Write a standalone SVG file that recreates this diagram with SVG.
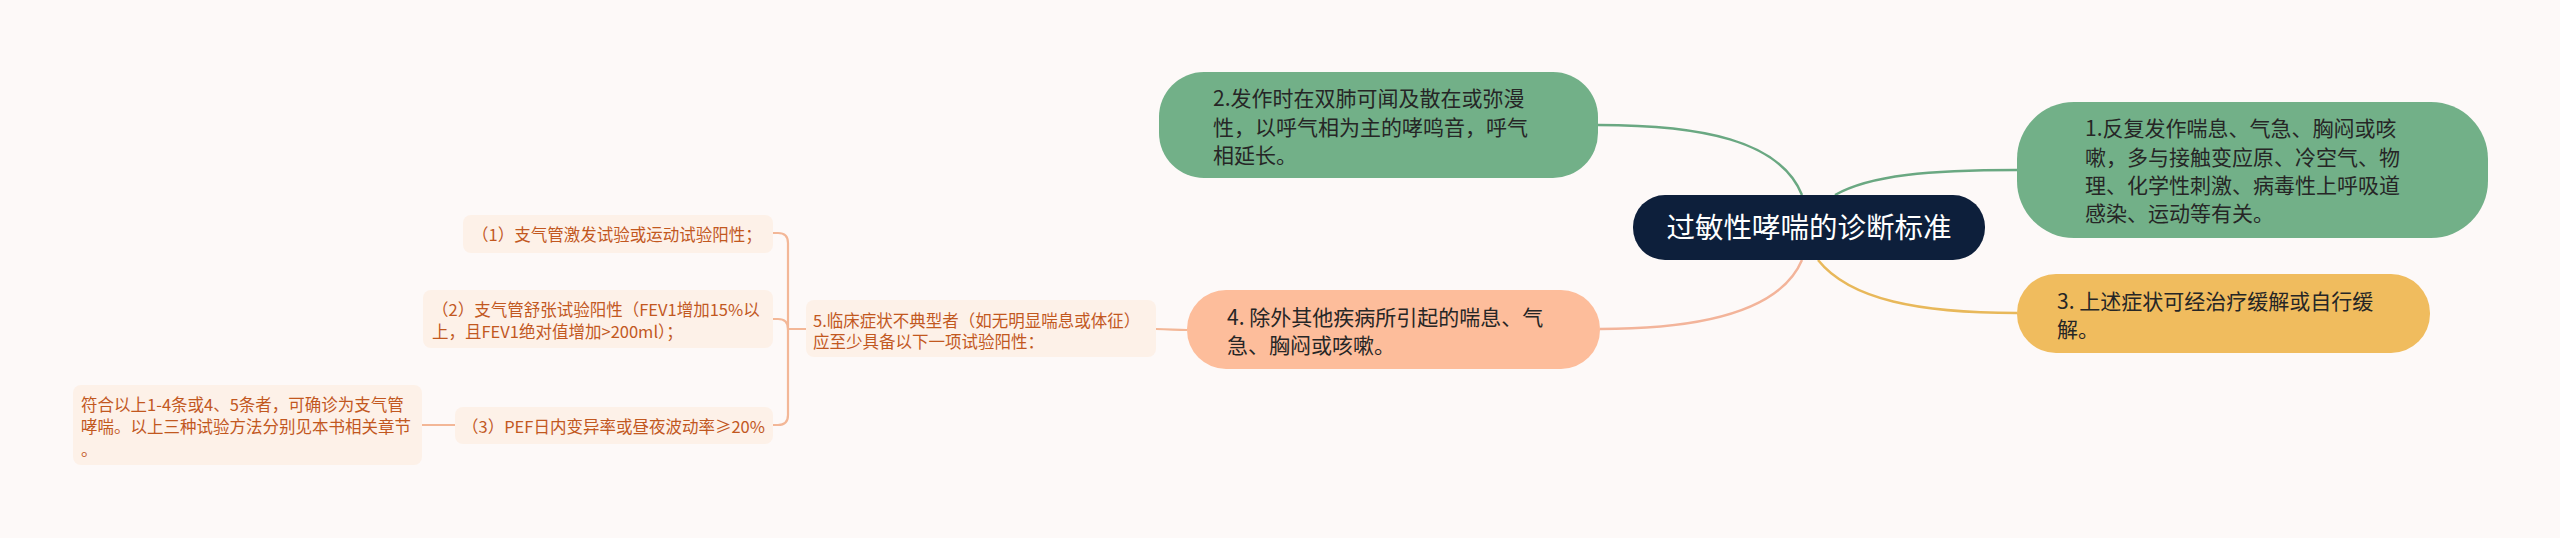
<svg xmlns="http://www.w3.org/2000/svg" width="2560" height="538" viewBox="0 0 2560 538">
<style>
text{font-family:"Noto Sans CJK SC","Microsoft YaHei",sans-serif}
.big{font-size:21px;fill:#262626}
.small{font-size:16.5px;fill:#c2581f}
.sub{fill:#fdf1e8}
.conn{fill:none;stroke-width:2.5}
.br{fill:none;stroke:#f3b797;stroke-width:2.2}
</style>
<rect width="2560" height="538" fill="#fdf9f8"/>
<g id="connectors">
<path class="conn" stroke="#6aa882" d="M1802,195 C1780,140 1700,125 1598,125"/>
<path class="conn" stroke="#6aa882" d="M1835,195 C1870,175 1930,170 2017,170"/>
<path class="conn" stroke="#f3b49a" d="M1802,260 C1780,312 1700,329 1600,329"/>
<path class="conn" stroke="#e8b85a" d="M1818,260 C1850,300 1920,313 2017,313"/>
<path class="br" d="M1156,329 C1170,329 1175,330 1187,330"/>
<path class="br" d="M773,233 L778,233 Q788,233 788,243 L788,415 Q788,425 778,425 L773,425"/>
<path class="br" d="M773,319 L778,319 Q788,319 788,329 L806,329"/>
<path class="br" d="M422,425 L455,425"/>
</g>
<g id="center">
<rect x="1633" y="195" width="352" height="65" rx="32" fill="#0d1f3b"/>
<text x="1809" y="238" font-size="28.5" fill="#ffffff" text-anchor="middle">过敏性哮喘的诊断标准</text>
</g>
<g id="node1">
<rect x="2017" y="102" width="471" height="136" rx="57" fill="#72b088"/>
<text class="big"><tspan x="2085" y="136">1.反复发作喘息、气急、胸闷或咳</tspan><tspan x="2085" y="165">嗽，多与接触变应原、冷空气、物</tspan><tspan x="2085" y="193">理、化学性刺激、病毒性上呼吸道</tspan><tspan x="2085" y="221">感染、运动等有关。</tspan></text>
</g>
<g id="node2">
<rect x="1159" y="72" width="439" height="106" rx="45" fill="#72b088"/>
<text class="big"><tspan x="1213" y="106">2.发作时在双肺可闻及散在或弥漫</tspan><tspan x="1213" y="135">性，以呼气相为主的哮鸣音，呼气</tspan><tspan x="1213" y="163">相延长。</tspan></text>
</g>
<g id="node3">
<rect x="2017" y="274" width="413" height="79" rx="39" fill="#f0bc5e"/>
<text class="big"><tspan x="2057" y="309">3. 上述症状可经治疗缓解或自行缓</tspan><tspan x="2057" y="337">解。</tspan></text>
</g>
<g id="node4">
<rect x="1187" y="290" width="413" height="79" rx="39" fill="#fdbd9b"/>
<text class="big"><tspan x="1227" y="325">4. 除外其他疾病所引起的喘息、气</tspan><tspan x="1227" y="353">急、胸闷或咳嗽。</tspan></text>
</g>
<g id="node5">
<rect class="sub" x="806" y="300" width="350" height="57" rx="8"/>
<text class="small"><tspan x="813" y="327">5.临床症状不典型者（如无明显喘息或体征）</tspan><tspan x="813" y="348">应至少具备以下一项试验阳性：</tspan></text>
</g>
<g id="sub1">
<rect class="sub" x="463" y="215" width="310" height="38" rx="8"/>
<text class="small" x="472" y="241">（1）支气管激发试验或运动试验阳性；</text>
</g>
<g id="sub2">
<rect class="sub" x="423" y="290" width="350" height="58" rx="8"/>
<text class="small"><tspan x="432" y="316">（2）支气管舒张试验阳性（FEV1增加15%以</tspan><tspan x="432" y="338">上，且FEV1绝对值增加&gt;200ml）；</tspan></text>
</g>
<g id="sub3">
<rect class="sub" x="455" y="407" width="318" height="37" rx="8"/>
<text class="small" x="462" y="433">（3）PEF日内变异率或昼夜波动率≥20%</text>
</g>
<g id="note">
<rect class="sub" x="73" y="385" width="349" height="80" rx="8"/>
<text class="small"><tspan x="81" y="411">符合以上1-4条或4、5条者，可确诊为支气管</tspan><tspan x="81" y="433">哮喘。以上三种试验方法分别见本书相关章节</tspan><tspan x="81" y="456">。</tspan></text>
</g>
</svg>
